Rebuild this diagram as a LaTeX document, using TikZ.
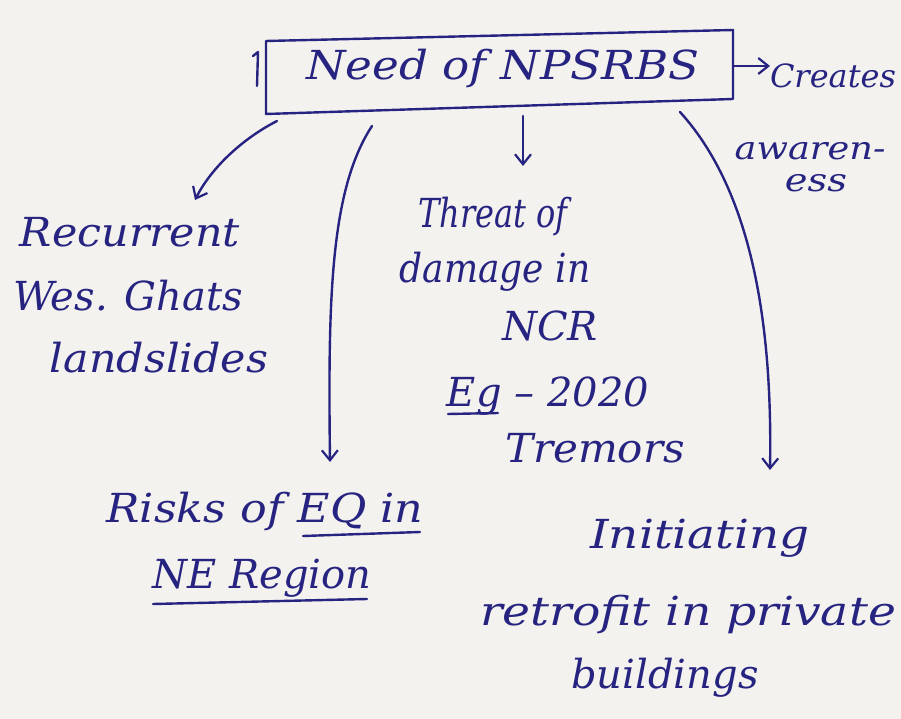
\documentclass[tikz,border=0pt]{standalone}
\usepackage{fontspec}
\setmainfont{DejaVu Serif}
\usetikzlibrary{arrows.meta}
\definecolor{ink}{RGB}{38,36,128}
\definecolor{paper}{RGB}{244,242,238}
% horizontally stretched handwriting line
\newcommand\hw[2]{\scalebox{#1}[1]{#2}}
\begin{document}
\begin{tikzpicture}[x=1pt,y=-1pt,
  hand/.style={text=ink,font=\itshape\fontsize{40}{44}\selectfont,inner sep=0pt,anchor=base},
  small/.style={hand,font=\itshape\fontsize{32}{36}\selectfont},
  pen/.style={draw=ink,line width=2.4pt,line cap=round,line join=round},
  link/.style={pen,-{Straight Barb[length=10pt,width=16pt,line width=2.2pt]}}]
\fill[paper] (0,0) rectangle (901,719);
\useasboundingbox (0,0) rectangle (901,719);

% title box
\node[hand] (need) at (503,80) {\hw{1.13}{Need of NPSRBS}};
\coordinate (bxTL) at (266,41);
\coordinate (bxTR) at (733,30);
\coordinate (bxBR) at (733,99);
\coordinate (bxBL) at (266,114);
\draw[pen] (bxTL) -- (bxTR) -- (bxBR) -- (bxBL) -- cycle;
\draw[pen] (253,56) -- (258,52) -- (257,86);

% creates awareness
\node[small] (creates) at (833,88) {Creates};
\node[small] (aware) at (810,160) {\hw{1.15}{awaren-}};
\node[small] (ess) at (816,192) {\hw{1.2}{ess}};

% recurrent landslides
\node[hand] (rec1) at (130,247) {\hw{1.07}{Recurrent}};
\node[hand] (rec2) at (128,310) {Wes. Ghats};
\node[hand] (rec3) at (159,372) {\hw{1.07}{landslides}};

% threat in NCR
\node[hand] (thr1) at (493,228) {\hw{0.8}{Threat of}};
\node[hand] (thr2) at (495,282) {\hw{0.9}{damage in}};
\node[hand] (thr3) at (550,340) {NCR};
\node[hand] (thr4) at (548,406) {Eg -- 2020};
\node[hand] (thr5) at (595,462) {\hw{1.05}{Tremors}};
\coordinate (u0a) at (448,414);
\coordinate (u0b) at (498,413);
\draw[pen] (u0a) -- (u0b);

% risks in NE region
\node[hand] (risk1) at (265,522) {\hw{1.11}{Risks of EQ in}};
\node[hand] (risk2) at (262,588) {NE Region};
\coordinate (u1a) at (303,536);
\coordinate (u1b) at (420,532);
\coordinate (u2a) at (153,604);
\coordinate (u2b) at (367,599);
\draw[pen] (u1a) -- (u1b);
\draw[pen] (u2a) -- (u2b);

% retrofit
\node[hand] (ret1) at (700,548) {\hw{1.17}{Initiating}};
\node[hand] (ret2) at (688,625) {\hw{1.18}{retrofit in private}};
\node[hand] (ret3) at (665,688) {buildings};

% connectors
\coordinate (srcC) at (733,66);
\coordinate (tipC) at (770,66);
\draw[link] (srcC) -- (tipC);
\coordinate (srcL) at (277,121);
\coordinate (tipL) at (195,200);
\draw[link] (srcL) .. controls (240,140) and (210,170) .. (tipL);
\coordinate (srcM) at (372,126);
\coordinate (tipM) at (330,462);
\draw[link] (srcM) .. controls (330,190) and (328,300) .. (tipM);
\coordinate (srcD) at (523,116);
\coordinate (tipD) at (523,166);
\draw[link] (srcD) -- (tipD);
\coordinate (srcR) at (680,112);
\coordinate (tipR) at (770,470);
\draw[link] (srcR) .. controls (760,200) and (772,350) .. (tipR);
\end{tikzpicture}
\end{document}
